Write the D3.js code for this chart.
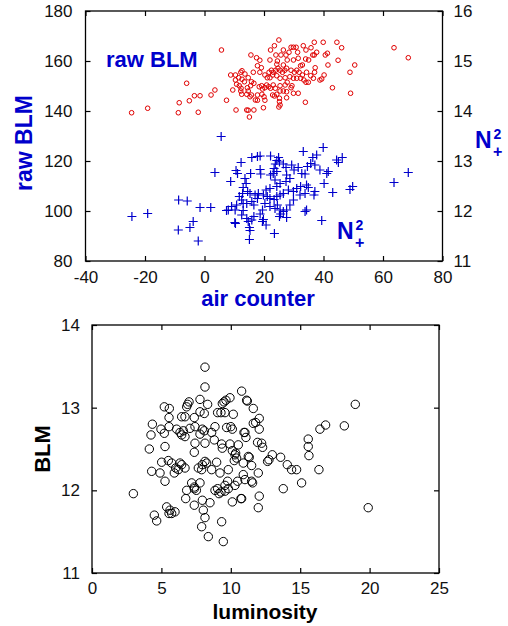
<!DOCTYPE html>
<html>
<head>
<meta charset="utf-8">
<script src="https://cdn.jsdelivr.net/npm/d3@7"></script>
<style>
  body { margin: 0; background: #fff; }
  text { font-family: "Liberation Sans", Arial, sans-serif; }
</style>
</head>
<body>
<div id="chart"></div>
<script>
// raw BLM (left axis) vs air counter
let redPoints = [[-24.5,139.3],[-19.1,141.1],[-8.8,139.3],[-8.5,143.3],
  [25.0,168.4],[36.9,167.5],[39.9,167.5],[44.5,167.5],[46.1,165.3],[5.7,164.4],[22.2,164.4],[23.5,166.1],[26.5,164.4],[29.1,165.5],[29.9,165.5],[30.8,165.5],[33.2,166.1],[34.1,164.4],[35.8,165.3],[37.7,163.5],[41.3,163.1],[40.6,162.4],[36.4,162.4],[36.9,162.4],[15.6,162.4],[17.5,161.3],[18.6,160.3],[24.0,162.4],[25.7,162.4],[27.4,162.4],[28.4,163.5],[31.3,163.5],[27.8,160.4],[29.9,160.4],[31.5,161.1],[34.0,160.8],[35.0,160.4],[24.5,160.0],[22.0,160.4],[44.9,160.3],[50.5,158.4],[41.5,158.4],[32.9,158.4],[32.3,158.1],[26.5,158.4],[24.3,158.7],[17.8,158.1],[19.1,157.3],[37.2,157.3],[37.0,155.5],[48.9,155.5],[40.2,154.4],[12.6,156.1],[12.2,155.5],[13.6,154.8],[10.4,154.4],[8.8,154.4],[16.4,155.5],[18.6,155.5],[21.7,155.5],[22.5,156.3],[23.1,155.5],[23.9,156.3],[24.7,157.1],[25.4,156.3],[26.2,155.5],[27.0,156.3],[27.6,157.1],[29.1,156.3],[30.2,155.5],[31.0,156.3],[31.8,155.5],[32.9,154.4],[34.3,155.5],[35.7,154.1],[36.6,153.1],[38.8,152.4],[39.4,152.8],[20.3,154.4],[21.1,153.3],[22.0,153.3],[22.9,154.4],[24.3,154.1],[25.4,153.1],[27.1,153.3],[28.7,153.7],[29.9,153.1],[31.0,153.1],[32.3,153.1],[33.4,152.4],[34.1,151.5],[34.9,151.5],[10.4,152.4],[11.5,153.3],[12.6,152.7],[13.4,151.7],[14.7,153.3],[15.8,151.7],[16.6,151.1],[15.5,150.1],[14.4,149.3],[14.7,148.0],[12.3,149.1],[10.8,150.7],[11.7,150.1],[9.5,148.4],[12.2,148.0],[12.5,146.7],[14.2,146.7],[15.3,145.7],[15.8,146.4],[18.4,149.7],[19.2,150.1],[20.3,149.3],[19.5,148.8],[20.9,150.4],[21.6,149.7],[22.2,149.1],[23.1,150.4],[23.8,149.1],[25.4,150.1],[27.1,150.4],[27.8,151.5],[29.4,150.1],[29.1,149.3],[25.4,148.0],[26.5,148.0],[27.6,147.7],[29.9,147.1],[31.5,147.1],[22.9,146.4],[23.5,146.0],[24.3,146.7],[25.2,145.1],[27.6,145.3],[25.2,143.7],[25.4,142.4],[25.0,141.6],[20.0,145.7],[19.3,146.7],[17.8,146.4],[17.1,144.4],[17.8,144.3],[20.3,144.3],[19.8,141.3],[16.6,140.4],[14.2,140.4],[14.7,140.3],[10.6,140.4],[15.1,137.6],[33.9,143.5],[43.0,149.3],[49.1,147.1],[7.4,144.3],[3.5,148.4],[2.2,146.4],[-6.0,151.1],[-5.1,144.1],[-3.4,146.1],[-1.5,146.1],[-2.1,139.5],[63.7,165.3],[68.5,161.3]];

// N2+ (right axis) vs air counter
let bluePoints = [[39.9,13.27],[33.2,13.19],[37.7,13.12],[36.4,13.07],[15.9,13.07],[17.8,13.09],[18.7,13.10],[22.2,13.10],[24.9,13.07],[24.3,13.01],[23.8,12.94],[25.2,12.98],[12.3,12.97],[10.6,12.81],[11.1,12.75],[3.5,12.77],[8.8,12.59],[15.5,12.75],[18.7,12.83],[18.9,12.74],[22.2,12.72],[23.1,12.75],[24.3,12.79],[23.4,12.85],[26.5,12.94],[27.4,12.87],[29.3,12.92],[30.1,12.82],[31.5,12.87],[32.7,12.75],[33.8,12.74],[34.6,12.89],[35.7,12.95],[37.1,12.92],[38.8,12.82],[41.1,12.75],[41.6,12.79],[40.2,12.55],[44.4,13.02],[46.3,13.07],[45.0,12.97],[27.6,12.72],[28.7,12.65],[27.4,12.59],[25.4,12.55],[24.3,12.49],[23.7,12.62],[22.0,12.45],[20.7,12.42],[13.6,12.65],[14.0,12.55],[13.0,12.47],[14.5,12.39],[12.8,12.35],[11.7,12.29],[12.5,12.22],[15.3,12.35],[17.0,12.32],[18.1,12.35],[19.8,12.32],[21.1,12.29],[22.0,12.25],[23.4,12.23],[24.3,12.29],[25.4,12.32],[26.5,12.35],[28.2,12.42],[29.9,12.39],[31.0,12.45],[32.3,12.49],[34.3,12.52],[33.8,12.35],[32.1,12.32],[34.9,12.47],[36.8,12.32],[37.1,12.39],[43.1,12.37],[48.9,12.43],[49.8,12.49],[-5.8,12.20],[-1.5,12.07],[2.1,12.07],[7.4,12.01],[9.1,12.09],[10.8,12.12],[10.3,12.02],[13.0,12.01],[12.5,11.92],[14.2,12.15],[15.9,12.19],[16.6,12.12],[17.8,12.25],[19.5,12.02],[18.7,11.94],[16.6,11.89],[20.3,12.15],[22.0,12.09],[23.7,12.05],[24.5,12.12],[25.4,12.02],[26.5,11.99],[25.2,11.89],[25.6,11.94],[27.6,12.02],[28.7,12.12],[29.9,12.22],[27.6,11.87],[34.3,12.02],[33.8,11.99],[39.4,11.81],[10.2,11.77],[14.7,11.79],[15.1,11.67],[15.3,11.61],[19.5,11.79],[20.7,11.72],[19.8,11.83],[15.9,11.82],[14.2,11.85],[23.5,11.55],[-3.8,11.79],[-4.9,11.67],[-2.1,11.40],[15.1,11.43],[13.0,12.15],[-24.4,11.89],[-19.1,11.95],[-8.7,12.22],[-8.8,11.62],[8.0,12.02],[10.4,11.75],[5.6,13.49],[63.7,12.57],[68.5,12.77]];

// BLM vs luminosity
let blackPoints = [[8.14,13.49],[8.14,13.25],[10.78,13.20],[5.21,13.01],[5.57,12.99],[6.99,13.07],[6.89,13.04],[6.82,13.01],[7.78,13.10],[8.33,13.04],[9.51,13.07],[9.39,13.05],[9.65,13.09],[9.94,13.12],[11.14,13.09],[11.62,12.99],[5.55,12.88],[6.46,12.89],[6.70,12.89],[7.37,12.88],[7.78,12.95],[8.09,12.93],[9.05,12.94],[9.29,12.94],[9.58,12.94],[10.18,12.92],[4.35,12.80],[4.25,12.67],[4.97,12.74],[5.21,12.69],[5.55,12.77],[6.10,12.74],[6.34,12.70],[6.46,12.67],[6.70,12.65],[6.58,12.72],[7.06,12.75],[7.42,12.77],[7.95,12.74],[8.09,12.72],[7.78,12.68],[8.62,12.70],[8.86,12.77],[9.70,12.76],[10.00,12.77],[10.11,12.74],[11.02,12.70],[11.62,12.81],[7.42,12.57],[7.37,12.46],[8.14,12.57],[8.81,12.61],[9.34,12.56],[9.39,12.51],[9.94,12.56],[10.54,12.55],[10.11,12.48],[10.30,12.43],[10.42,12.39],[10.25,12.36],[10.35,12.45],[11.26,12.41],[10.90,12.33],[4.13,12.50],[5.26,12.53],[5.02,12.34],[5.50,12.36],[5.74,12.33],[6.03,12.27],[5.93,12.21],[6.22,12.25],[4.30,12.23],[4.90,12.21],[5.26,12.11],[6.46,12.31],[6.70,12.27],[6.34,12.33],[7.95,12.31],[8.14,12.35],[8.26,12.33],[7.90,12.25],[7.66,12.27],[8.62,12.25],[8.98,12.34],[9.22,12.21],[9.82,12.25],[9.77,12.11],[9.58,12.06],[9.05,12.02],[9.29,11.98],[9.15,11.96],[8.86,12.00],[9.82,12.02],[9.58,11.99],[10.30,12.06],[10.49,12.11],[10.90,12.19],[11.50,12.11],[7.18,12.09],[7.37,12.02],[7.52,12.00],[7.37,12.04],[6.82,12.00],[6.75,11.90],[7.78,12.09],[7.37,11.82],[7.95,11.88],[8.02,11.76],[8.14,11.67],[8.50,11.85],[7.90,11.56],[8.38,11.44],[9.46,11.38],[9.34,11.62],[10.11,11.86],[10.73,11.90],[2.98,11.96],[4.49,11.70],[4.66,11.63],[5.38,11.80],[5.62,11.76],[5.98,11.74],[5.74,11.72],[5.55,11.72],
  [11.19,13.08],[12.05,12.87],[11.79,12.82],[12.05,12.74],[10.95,12.70],[11.09,12.64],[11.93,12.58],[12.22,12.57],[12.29,12.52],[12.99,12.43],[12.65,12.35],[12.75,12.37],[13.59,12.40],[11.33,12.40],[11.50,12.30],[14.07,12.31],[14.38,12.25],[14.74,12.25],[15.58,12.62],[15.58,12.53],[15.63,12.42],[16.42,12.74],[16.83,12.79],[18.18,12.78],[18.97,13.04],[16.35,12.25],[15.10,12.09],[13.78,12.02],[11.98,12.21],[11.02,12.13],[11.57,12.09],[10.78,11.90],[12.05,11.93],[11.98,11.79],[19.90,11.79]];

let topXTicks = [-40, -20, 0, 20, 40, 60, 80];
let topLeftTicks = [80, 100, 120, 140, 160, 180];
let topRightTicks = [11, 12, 13, 14, 15, 16];
let botXTicks = [0, 5, 10, 15, 20, 25];
let botYTicks = [11, 12, 13, 14];

let blue = "#0000cc";
let red = "#e00000";

// plain labels with an ascii minus, like the original plot
let plain = function(d){ return String(d); };

let svg = d3.select("#chart")
    .append("svg")
    .attr("width", 508)
    .attr("height", 626);

// ---------- top panel ----------
let x1 = d3.scaleLinear().domain([-40, 80]).range([85.5, 442.5]);
let y1 = d3.scaleLinear().domain([80, 180]).range([261, 11]);
let y1r = d3.scaleLinear().domain([11, 16]).range([261, 11]);

function styleAxis(g, size) {
    g.select(".domain").remove();
    g.selectAll(".tick line").attr("stroke", "#000").attr("stroke-width", 1.2);
    g.selectAll("text").attr("fill", "#111").style("font-size", size + "px");
}

svg.append("g")
    .attr("transform", "translate(0,261)")
    .call(d3.axisBottom(x1).tickValues(topXTicks).tickSize(-5).tickPadding(10).tickFormat(plain))
    .call(styleAxis, 17);
svg.append("g")
    .attr("transform", "translate(0,11)")
    .call(d3.axisTop(x1).tickValues(topXTicks).tickSize(-5).tickFormat(""))
    .call(styleAxis, 17);
svg.append("g")
    .attr("transform", "translate(85.5,0)")
    .call(d3.axisLeft(y1).tickValues(topLeftTicks).tickSize(-5).tickPadding(13).tickFormat(plain))
    .call(styleAxis, 17);
svg.append("g")
    .attr("transform", "translate(442.5,0)")
    .call(d3.axisRight(y1r).tickValues(topRightTicks).tickSize(-5).tickPadding(11).tickFormat(plain))
    .call(styleAxis, 17);

svg.append("rect")
    .attr("x", 85.5).attr("y", 11)
    .attr("width", 357).attr("height", 250)
    .attr("fill", "none").attr("stroke", "#000").attr("stroke-width", 1.3);

svg.append("g").selectAll("circle")
    .data(redPoints)
    .enter()
    .append("circle")
        .attr("cx", function(d){ return x1(d[0]); })
        .attr("cy", function(d){ return y1(d[1]); })
        .attr("r", 2.3)
        .attr("fill", "none")
        .attr("stroke", red)
        .attr("stroke-width", 1);

svg.append("g").selectAll("path")
    .data(bluePoints)
    .enter()
    .append("path")
        .attr("d", function(d){
            let cx = x1(d[0]), cy = y1r(d[1]);
            return "M" + (cx - 4.5) + "," + cy + "H" + (cx + 4.5) + "M" + cx + "," + (cy - 4.5) + "V" + (cy + 4.5);
        })
        .attr("stroke", blue)
        .attr("stroke-width", 1.2)
        .attr("fill", "none");

svg.append("text")
    .attr("x", 106).attr("y", 67)
    .attr("fill", blue)
    .style("font-size", "22px").style("font-weight", "bold")
    .text("raw BLM");

svg.append("text")
    .attr("transform", "translate(32,143) rotate(-90)")
    .attr("text-anchor", "middle")
    .attr("fill", blue)
    .style("font-size", "23px").style("font-weight", "bold")
    .text("raw BLM");

svg.append("text")
    .attr("x", 258).attr("y", 306)
    .attr("text-anchor", "middle")
    .attr("fill", blue)
    .style("font-size", "22px").style("font-weight", "bold")
    .text("air counter");

// N2+ labels: inside plot and right axis
function n2Label(x, y) {
    let g = svg.append("g").attr("transform", "translate(" + x + "," + y + ")");
    g.append("text").attr("x", 0).attr("y", 0)
        .attr("fill", blue).style("font-size", "23px").style("font-weight", "bold").text("N");
    g.append("text").attr("x", 18.5).attr("y", -9)
        .attr("fill", blue).style("font-size", "14px").style("font-weight", "bold").text("2");
    g.append("text").attr("x", 18).attr("y", 9)
        .attr("fill", blue).style("font-size", "16px").style("font-weight", "bold").text("+");
}
n2Label(337, 239);
n2Label(475, 148);

// ---------- bottom panel ----------
let x2 = d3.scaleLinear().domain([0, 25]).range([92, 439]);
let y2 = d3.scaleLinear().domain([11, 14]).range([573, 325]);

svg.append("g")
    .attr("transform", "translate(0,573)")
    .call(d3.axisBottom(x2).tickValues(botXTicks).tickSize(-5).tickPadding(9).tickFormat(plain))
    .call(styleAxis, 17);
svg.append("g")
    .attr("transform", "translate(0,325)")
    .call(d3.axisTop(x2).tickValues(botXTicks).tickSize(-5).tickFormat(""))
    .call(styleAxis, 17);
svg.append("g")
    .attr("transform", "translate(92,0)")
    .call(d3.axisLeft(y2).tickValues(botYTicks).tickSize(-5).tickPadding(12).tickFormat(plain))
    .call(styleAxis, 17);
svg.append("g")
    .attr("transform", "translate(439,0)")
    .call(d3.axisRight(y2).tickValues(botYTicks).tickSize(-5).tickFormat(""))
    .call(styleAxis, 17);

svg.append("rect")
    .attr("x", 92).attr("y", 325)
    .attr("width", 347).attr("height", 248)
    .attr("fill", "none").attr("stroke", "#000").attr("stroke-width", 1.3);

svg.append("g").selectAll("circle")
    .data(blackPoints)
    .enter()
    .append("circle")
        .attr("cx", function(d){ return x2(d[0]); })
        .attr("cy", function(d){ return y2(d[1]); })
        .attr("r", 4.2)
        .attr("fill", "none")
        .attr("stroke", "#000")
        .attr("stroke-width", 1);

svg.append("text")
    .attr("transform", "translate(50,449) rotate(-90)")
    .attr("text-anchor", "middle")
    .attr("fill", "#000")
    .style("font-size", "22px").style("font-weight", "bold")
    .text("BLM");

svg.append("text")
    .attr("x", 265).attr("y", 619)
    .attr("text-anchor", "middle")
    .attr("fill", "#000")
    .style("font-size", "21px").style("font-weight", "bold")
    .text("luminosity");
</script>
</body>
</html>
